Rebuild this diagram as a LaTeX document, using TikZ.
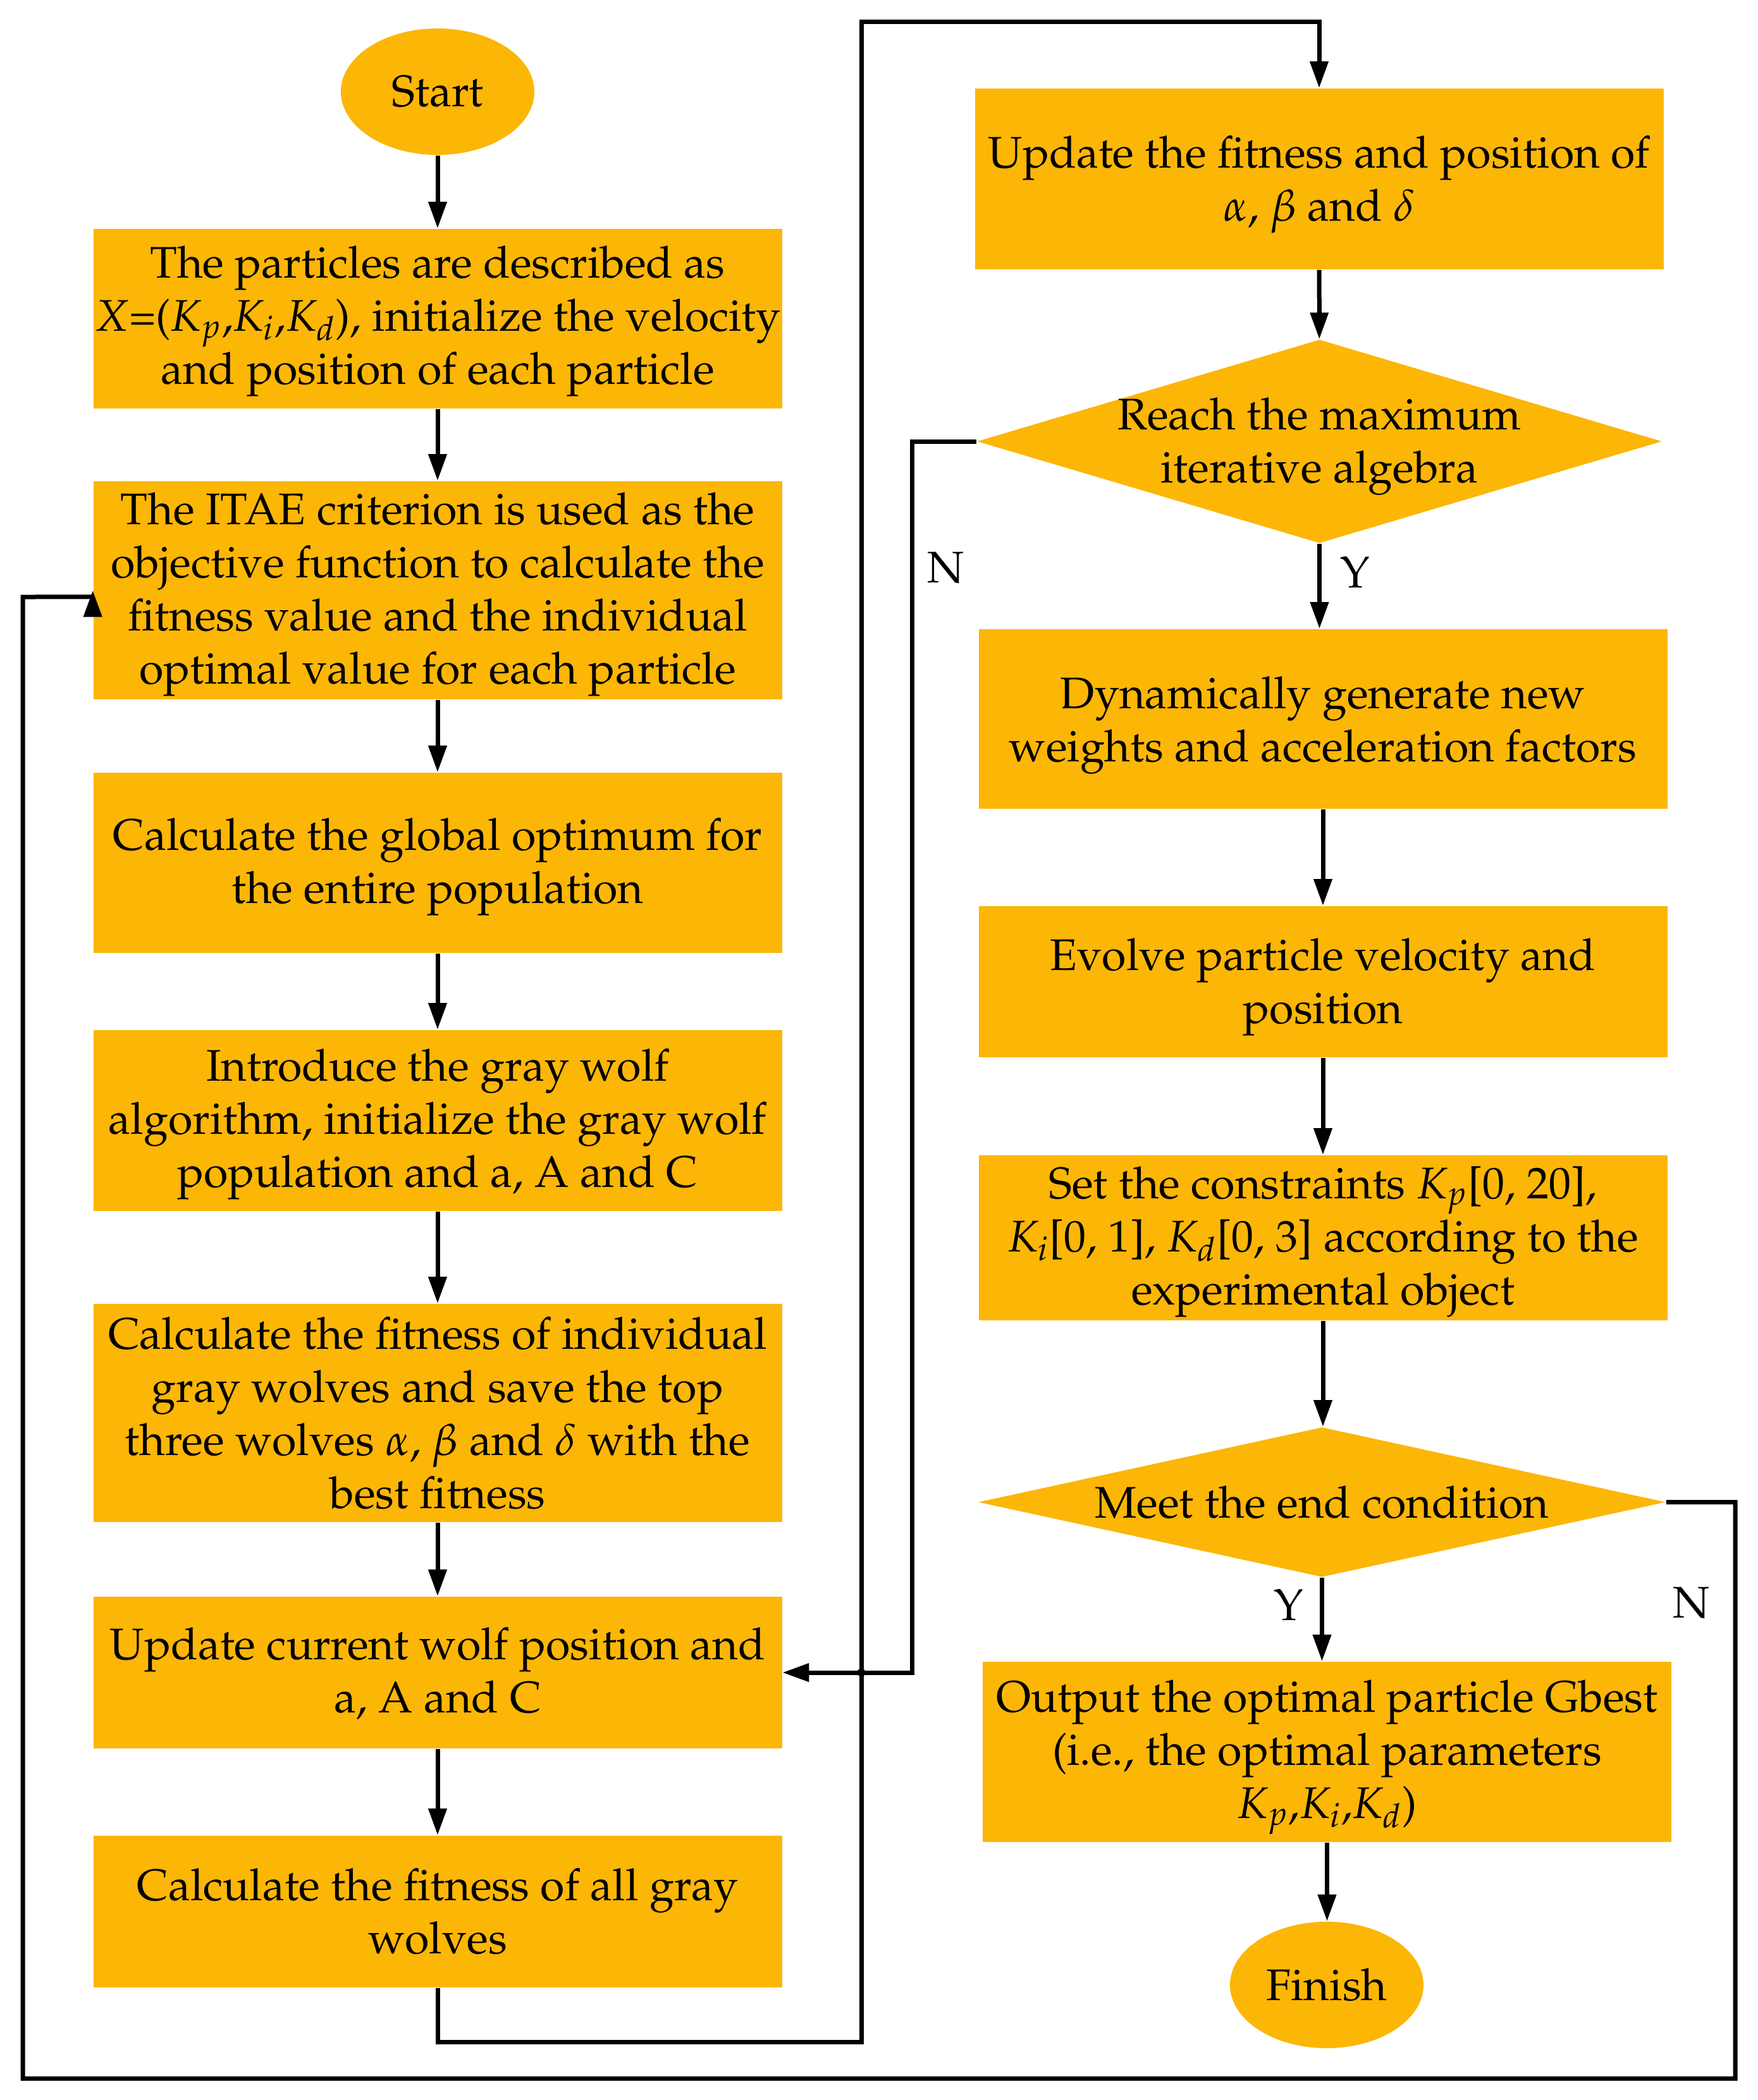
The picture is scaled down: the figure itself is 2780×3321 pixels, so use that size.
\documentclass[tikz,border=0pt]{standalone}
\usepackage[T1]{fontenc}
\usepackage{mathpazo}
\usetikzlibrary{shapes.geometric,arrows.meta}
\definecolor{boxor}{RGB}{252,182,6}
\begin{document}
\begin{tikzpicture}[x=0.25pt,y=-0.25pt,
  every node/.style={font=\fontsize{17.5}{21}\selectfont},
  proc/.style={rectangle,fill=boxor,draw=none,minimum width=272.25pt,inner sep=0pt},
  txt/.style={align=center,inner sep=0pt,fill=none},
  term/.style={ellipse,fill=boxor,draw=none,minimum width=76.5pt,minimum height=50pt,inner sep=1pt},
  decis/.style={diamond,fill=boxor,draw=none,inner sep=0pt},
  conn/.style={line width=1.75pt,-{Triangle[length=10.5pt,width=7pt]}},
  plain/.style={line width=1.75pt},
  lbl/.style={inner sep=0pt}]
\useasboundingbox (0,0) rectangle (2780,3321);
% left column
\node[term] (start) at (692,145) {Start};
\node[proc,minimum height=71pt,label={[txt,yshift=-1.1pt]center:{The particles are described as\\ $X$=($K_p$,$K_i$,$K_d$), initialize the velocity\\ and position of each particle}}] (b1) at (692,504) {};
\node[proc,minimum height=86.25pt,label={[txt,yshift=-1.6pt]center:{The ITAE criterion is used as the\\ objective function to calculate the\\ fitness value and the individual\\ optimal value for each particle}}] (b2) at (692,933.5) {};
\node[proc,minimum height=71.25pt,label={[txt,yshift=-1.6pt]center:{Calculate the global optimum for\\ the entire population}}] (b3) at (692,1364.5) {};
\node[proc,minimum height=71.5pt,label={[txt,yshift=-1.6pt]center:{Introduce the gray wolf\\ algorithm, initialize the gray wolf\\ population and a, A and C}}] (b4) at (692,1772) {};
\node[proc,minimum height=86.25pt,label={[txt]center:{Calculate the fitness of individual\\ gray wolves and save the top\\ three wolves $\alpha$, $\beta$ and $\delta$ with the\\ best fitness}}] (b5) at (692,2234.5) {};
\node[proc,minimum height=60pt,label={[txt,yshift=-0.5pt]center:{Update current wolf position and\\ a, A and C}}] (b6) at (692,2645) {};
\node[proc,minimum height=60pt,label={[txt]center:{Calculate the fitness of all gray\\ wolves}}] (b7) at (692,3023) {};
% right column
\node[proc,minimum height=71.5pt,label={[txt,yshift=-2.1pt]center:{Update the fitness and position of\\ $\alpha$, $\beta$ and $\delta$}}] (r1) at (2086,283) {};
\node[decis,minimum width=270.75pt,minimum height=80.5pt,label={[txt,yshift=-2.1pt]center:{Reach the maximum\\ iterative algebra}}] (d1) at (2086.5,698) {};
\node[proc,minimum height=71pt,label={[txt,yshift=-2.6pt]center:{Dynamically generate new\\ weights and acceleration factors}}] (r2) at (2092,1137) {};
\node[proc,minimum height=59.75pt,label={[txt,yshift=-2.1pt]center:{Evolve particle velocity and\\ position}}] (r3) at (2092,1552.5) {};
\node[proc,minimum height=65.25pt,label={[txt,yshift=-1.6pt]center:{Set the constraints $K_p$[0, 20],\\ $K_i$[0, 1], $K_d$[0, 3] according to the\\ experimental object}}] (r4) at (2092,1957.5) {};
\node[decis,minimum width=271.75pt,minimum height=59.25pt,label={[txt]center:{Meet the end condition}}] (d2) at (2090.5,2375.5) {};
\node[proc,minimum height=71.25pt,label={[txt,yshift=-2.1pt]center:{Output the optimal particle Gbest\\ (i.e., the optimal parameters\\ $K_p$,$K_i$,$K_d$)}}] (r5) at (2098.5,2770.5) {};
\node[term] (fin) at (2098,3139) {Finish};
% branch labels
\node[lbl] (ln1) at (1496,898) {N};
\node[lbl] (ly1) at (2143,905) {Y};
\node[lbl] (ly2) at (2038,2538) {Y};
\node[lbl] (ln2) at (2675,2535) {N};
% helper coordinates
\coordinate (lpA) at (692,3229);
\coordinate (lpB) at (1362,3229);
\coordinate (lpC) at (1362,34);
\coordinate (nA) at (1442,698);
\coordinate (mA) at (2744,2375.5);
\coordinate (mB) at (2744,3287);
\coordinate (mC) at (36,3287);
\coordinate (mD) at (36,944);
% left connectors
\draw[conn] (start) -- (b1);
\draw[conn] (b1) -- (b2);
\draw[conn] (b2) -- (b3);
\draw[conn] (b3) -- (b4);
\draw[conn] (b4) -- (b5);
\draw[conn] (b5) -- (b6);
\draw[conn] (b6) -- (b7);
% loop to right column
\draw[conn] (b7.south) -- (lpA) -- (lpB) -- (lpC) -| (r1.north);
% right connectors
\draw[conn] (r1) -- (d1);
\draw[conn] (d1.south) -- (d1.south |- r2.north);
\draw[conn] (r2) -- (r3);
\draw[conn] (r3) -- (r4);
\draw[conn] (r4.south) -- (r4.south |- d2.north);
\draw[conn] (d2.south) -- (d2.south |- r5.north);
\draw[conn] (r5.south) -- (r5.south |- fin.north);
% N branch of first decision
\draw[conn] (d1.west) -- (nA) |- (b6.east);
\fill (lpB |- b6.east) circle[radius=1.6pt];
% N branch of second decision
\draw[plain] (d2.east) -- (mA) -- (mB) -- (mC) -- (mD) -- ([yshift=-2.6pt]b2.west);
\draw[conn] ([yshift=-2.6pt]b2.west) -- (b2.west);
\end{tikzpicture}
\end{document}
